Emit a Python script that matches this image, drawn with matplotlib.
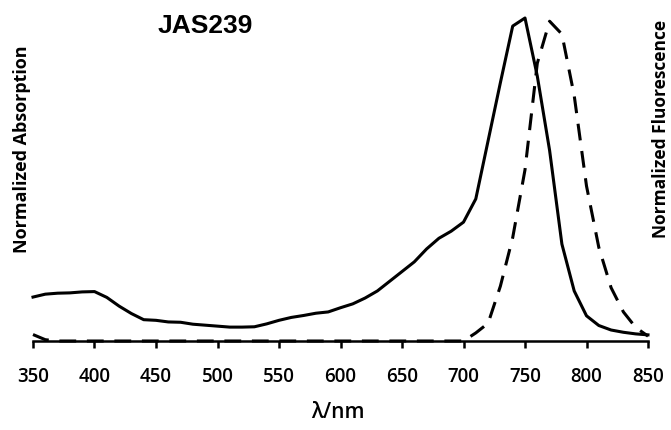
import matplotlib
matplotlib.use('Agg')
import matplotlib.pyplot as plt

# wavelength grid (nm)
wl = list(range(350, 851, 10))

# normalized absorption (solid)
absorption = [0.136, 0.145, 0.148, 0.149, 0.152, 0.153, 0.135, 0.108, 0.085, 0.066,
              0.064, 0.059, 0.058, 0.052, 0.049, 0.046, 0.043, 0.043, 0.044, 0.053,
              0.064, 0.073, 0.079, 0.086, 0.090, 0.103, 0.115, 0.133, 0.155, 0.185,
              0.215, 0.245, 0.285, 0.318, 0.340, 0.368, 0.440, 0.620, 0.800, 0.975,
              1.000, 0.820, 0.590, 0.300, 0.155, 0.078, 0.048, 0.034, 0.027, 0.022,
              0.019]

# normalized fluorescence (dashed)
fluorescence = [0.020, 0.004, 0, 0, 0, 0, 0, 0, 0, 0,
                0, 0, 0, 0, 0, 0, 0, 0, 0, 0,
                0, 0, 0, 0, 0, 0, 0, 0, 0, 0,
                0, 0, 0, 0, 0, 0, 0.025, 0.055, 0.170, 0.320,
                0.530, 0.860, 0.990, 0.950, 0.760, 0.480, 0.290, 0.165, 0.090, 0.042,
                0.015]

xticks = [350, 400, 450, 500, 550, 600, 650, 700, 750, 800, 850]

fig = plt.figure(figsize=(6.71, 4.31), dpi=100)
ax = fig.add_axes([33 / 671, 1 - 342 / 431, 615 / 671, 323 / 431])

ax.plot(wl, absorption, color='black', lw=2.2, clip_on=False)
ax.plot(wl, fluorescence, color='black', lw=2.2, dashes=(5.5, 3.5), clip_on=False)

ax.set_xlim(350, 850)
ax.set_ylim(0, 1)
ax.set_xticks(xticks)
ax.set_yticks([])

for s in ['left', 'right', 'top']:
    ax.spines[s].set_visible(False)
ax.spines['bottom'].set_linewidth(1.8)
ax.tick_params(axis='x', direction='out', length=5, width=1.8,
               labelsize=13.5, pad=13)
for lab in ax.get_xticklabels():
    lab.set_family('Open Sans')
    lab.set_weight(600)

# x label
fig.text(338 / 671, 1 - 413 / 431, 'λ/nm', family='Open Sans', weight=600,
         fontsize=15, ha='center', va='center')

# title and side labels
fig.text(205 / 671, 1 - 26 / 431, 'JAS239', family='Liberation Sans',
         weight='bold', fontsize=19, ha='center', va='center')
fig.text(22 / 671, 1 - 149 / 431, 'Normalized Absorption', family='Open Sans',
         weight='bold', fontsize=13, rotation=90, ha='center', va='center')
fig.text(661 / 671, 1 - 129 / 431, 'Normalized Fluorescence', family='Open Sans',
         weight='bold', fontsize=12.5, rotation=90, ha='center', va='center')

fig.savefig('out.png', dpi=100)
